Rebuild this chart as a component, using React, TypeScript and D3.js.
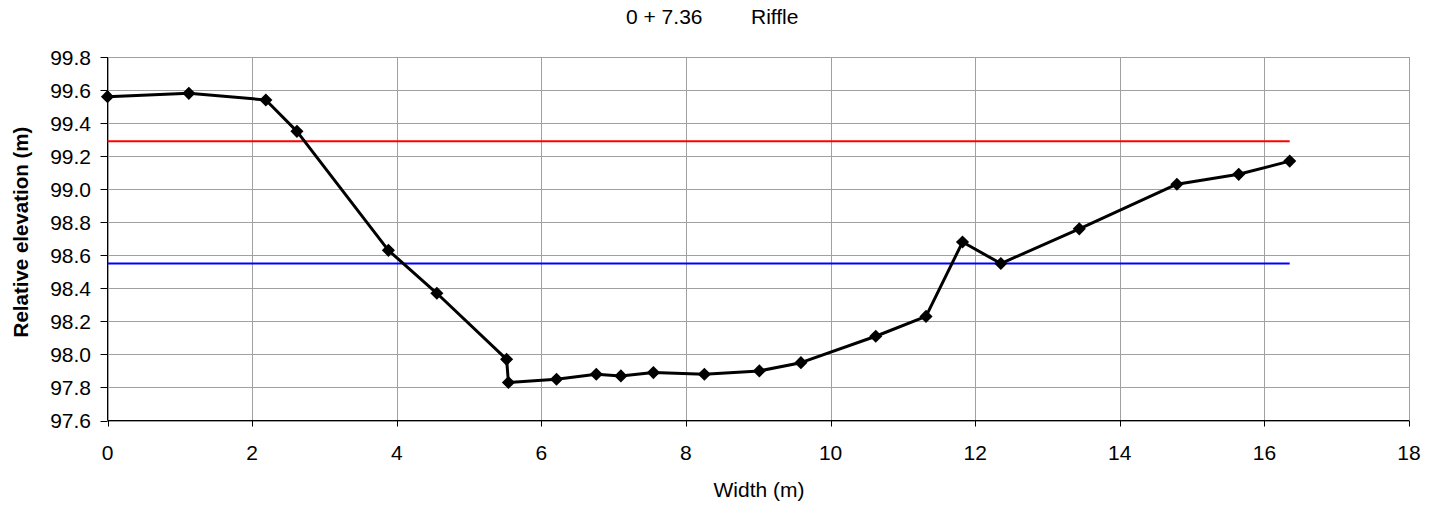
import React from "react";
import * as d3 from "d3";

const widths: number[] = [0, 1.125, 2.19, 2.62, 3.885, 4.555, 5.52, 5.545, 6.21, 6.76, 7.1, 7.55, 8.255, 9.015, 9.59, 10.625, 11.32, 11.825, 12.355, 13.44, 14.79, 15.645, 16.35];
const elevations: number[] = [99.56, 99.58, 99.54, 99.35, 98.63, 98.37, 97.97, 97.83, 97.85, 97.88, 97.87, 97.89, 97.88, 97.9, 97.95, 98.11, 98.23, 98.68, 98.55, 98.76, 99.03, 99.09, 99.17];
const redLevel = [{ x: 0, y: 99.29 }, { x: 16.35, y: 99.29 }];
const blueLevel = [{ x: 0, y: 98.55 }, { x: 16.35, y: 98.55 }];
const xTicks: number[] = [0, 2, 4, 6, 8, 10, 12, 14, 16, 18];
const yTicks: number[] = [97.6, 97.8, 98.0, 98.2, 98.4, 98.6, 98.8, 99.0, 99.2, 99.4, 99.6, 99.8];
const titleLeft = "0 + 7.36";
const titleRight = "Riffle";
const xTitle = "Width (m)";
const yTitle = "Relative elevation (m)";

const W = 1430;
const H = 511;
const L = 107.5;
const R = 1409;
const T = 57;
const B = 420.5;
const FONT = "'Liberation Sans', Arial, sans-serif";

export default function App() {
  const x = d3.scaleLinear().domain([0, 18]).range([L, R]);
  const y = d3.scaleLinear().domain([97.6, 99.8]).range([B, T]);
  const pts = widths.map((w, i) => ({ x: w, y: elevations[i] }));
  const line = d3
    .line<{ x: number; y: number }>()
    .x((d) => x(d.x))
    .y((d) => y(d.y));
  const diamond = d3.symbol().type(d3.symbolDiamond2).size(110)();

  return (
    <svg
      width={W}
      height={H}
      style={{ position: "absolute", left: 0, top: 0, background: "#fff" }}
      fontFamily={FONT}
    >
      <rect x={0} y={0} width={W} height={H} fill="#fff" />
      {/* grid */}
      {yTicks.map((t) => (
        <line key={"gy" + t} x1={L} x2={R} y1={Math.round(y(t)) + 0.5} y2={Math.round(y(t)) + 0.5} stroke="#a0a0a0" strokeWidth={1} />
      ))}
      {xTicks.map((t) => (
        <line key={"gx" + t} x1={Math.round(x(t)) + 0.5} x2={Math.round(x(t)) + 0.5} y1={T} y2={B} stroke="#a0a0a0" strokeWidth={1} />
      ))}
      {/* axes */}
      <line x1={L} x2={L} y1={T} y2={B} stroke="#000" strokeWidth={1} />
      <line x1={L} x2={R} y1={B} y2={B} stroke="#000" strokeWidth={1} />
      {yTicks.map((t) => (
        <line key={"ty" + t} x1={L - 7} x2={L} y1={Math.round(y(t)) + 0.5} y2={Math.round(y(t)) + 0.5} stroke="#000" strokeWidth={1} />
      ))}
      {xTicks.map((t) => (
        <line key={"tx" + t} x1={Math.round(x(t)) + 0.5} x2={Math.round(x(t)) + 0.5} y1={B} y2={B + 6} stroke="#000" strokeWidth={1} />
      ))}
      {/* tick labels */}
      {yTicks.map((t) => (
        <text key={"ly" + t} x={91} y={y(t)} dy="0.36em" textAnchor="end" fontSize={21} fill="#000">
          {t.toFixed(1)}
        </text>
      ))}
      {xTicks.map((t) => (
        <text key={"lx" + t} x={x(t)} y={460} textAnchor="middle" fontSize={21} fill="#000">
          {String(t)}
        </text>
      ))}
      {/* reference lines */}
      <path d={line(redLevel) || ""} stroke="#ff0000" strokeWidth={2} fill="none" />
      <path d={line(blueLevel) || ""} stroke="#0000ff" strokeWidth={2} fill="none" />
      {/* profile */}
      <path d={line(pts) || ""} stroke="#000" strokeWidth={3} fill="none" strokeLinejoin="round" />
      {pts.map((p, i) => (
        <path key={"m" + i} d={diamond || ""} transform={`translate(${x(p.x)},${y(p.y)})`} fill="#000" />
      ))}
      {/* titles */}
      <text x={626} y={24} fontSize={21} fill="#000">{titleLeft}</text>
      <text x={751} y={24} fontSize={21} fill="#000">{titleRight}</text>
      <text x={759} y={497} textAnchor="middle" fontSize={21} fill="#000">{xTitle}</text>
      <text
        transform={`translate(21,232) rotate(-90)`}
        textAnchor="middle"
        dy="0.36em"
        fontSize={20.5}
        fontWeight="bold"
        fill="#000"
      >
        {yTitle}
      </text>
    </svg>
  );
}
